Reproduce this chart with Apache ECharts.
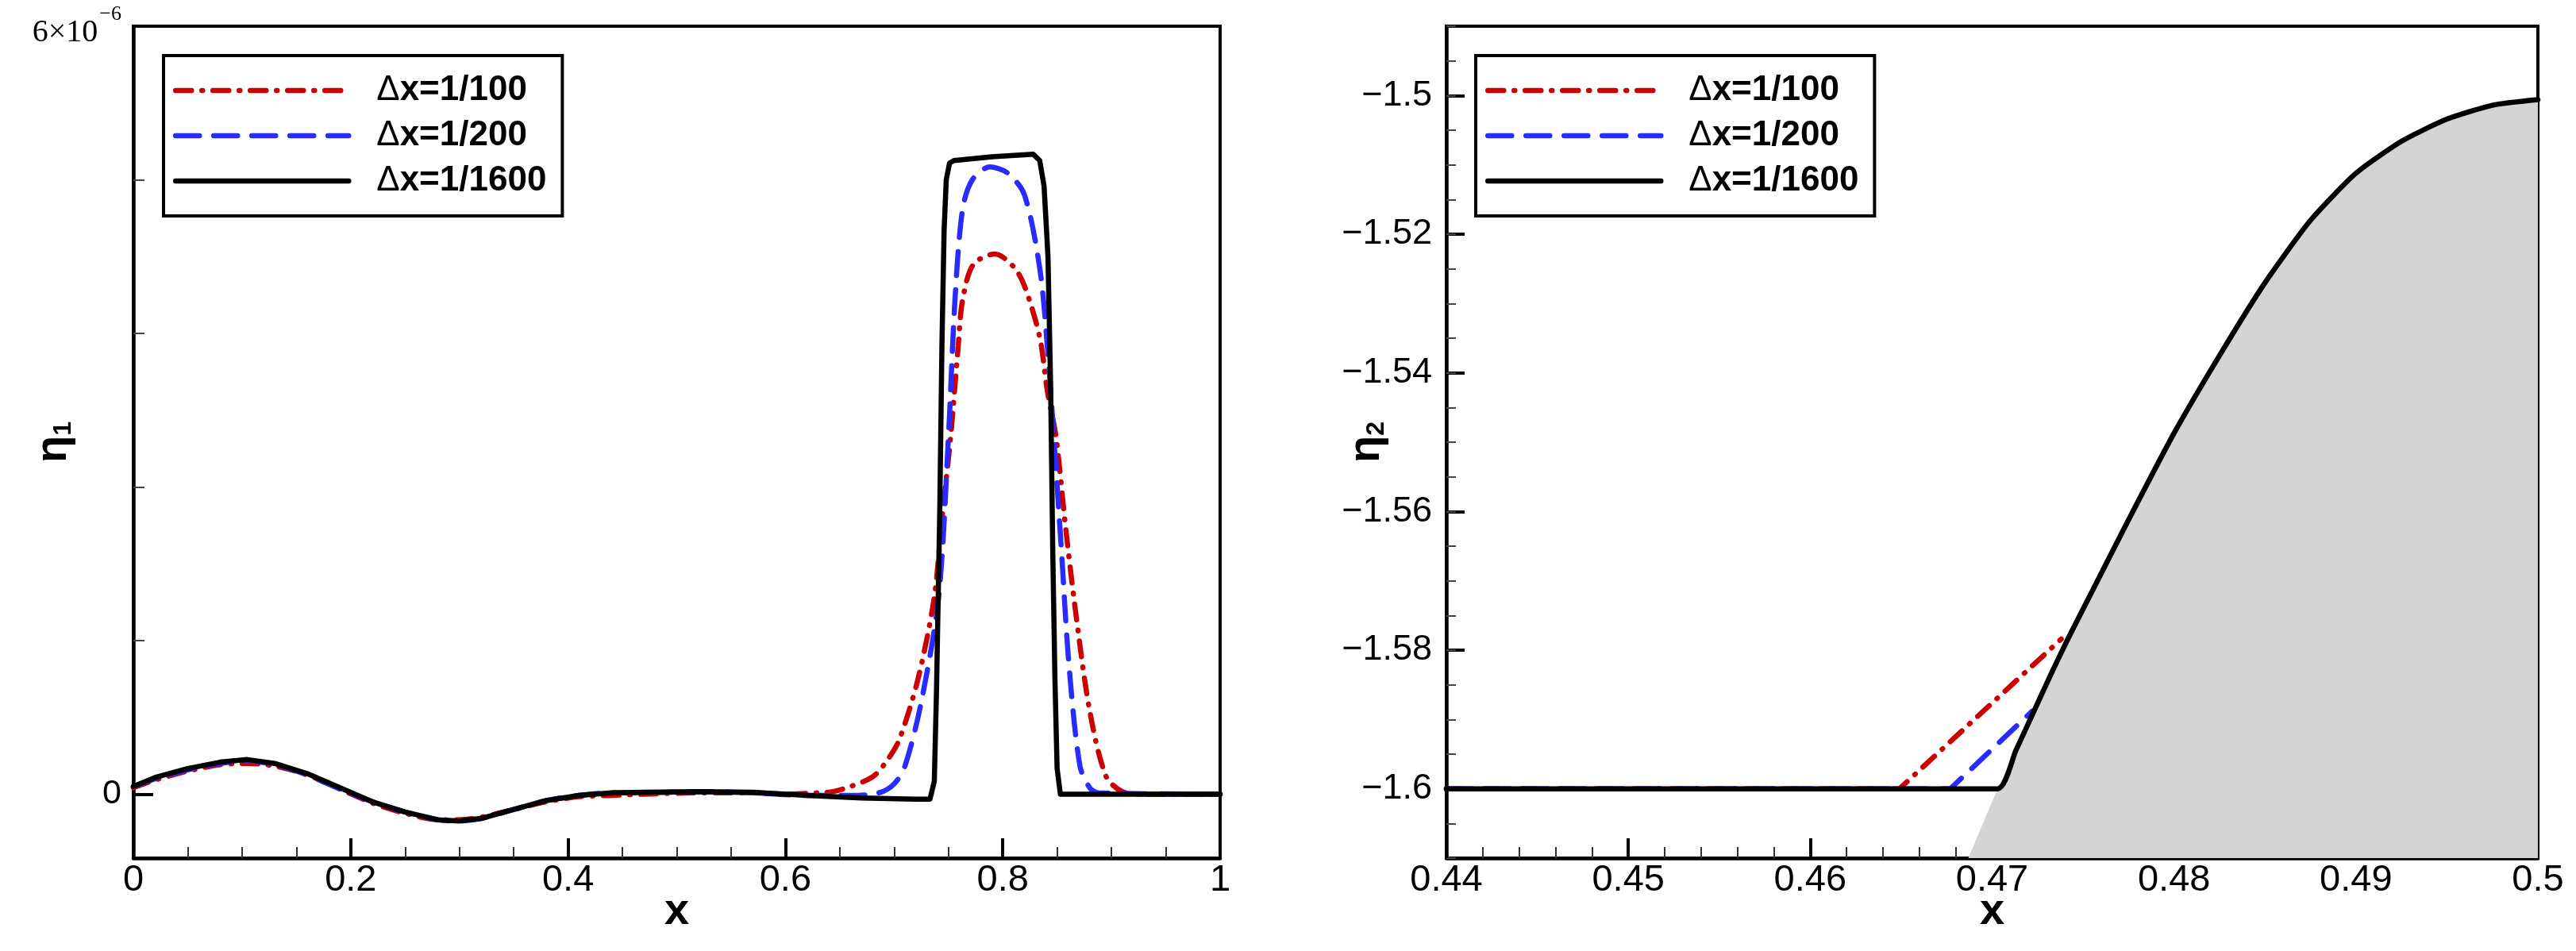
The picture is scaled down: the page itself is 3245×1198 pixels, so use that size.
<!DOCTYPE html>
<html>
<head>
<meta charset="utf-8">
<script src="https://cdn.jsdelivr.net/npm/echarts@6/dist/echarts.min.js"></script>
<style>
    html, body { margin: 0; padding: 0; background: #ffffff; }
    #chart { width: 3245px; height: 1198px; }
</style>
</head>
<body>
<div id="chart"></div>
<script>
// left panel: eta_1 in units of 1e-6
const seriesNames = ["\u0394x=1/100", "\u0394x=1/200", "\u0394x=1/1600"];

const leftCoarse = [
    [0, 0.05], [0.02, 0.11], [0.05, 0.18], [0.08, 0.23], [0.105, 0.24], [0.13, 0.22],
    [0.16, 0.15], [0.19, 0.04], [0.22, -0.07], [0.25, -0.15], [0.28, -0.2], [0.3, -0.2],
    [0.32, -0.18], [0.35, -0.12], [0.38, -0.06], [0.41, -0.02], [0.44, -0.01], [0.47, 0],
    [0.52, 0.01], [0.57, 0.01], [0.6, 0], [0.63, 0.01], [0.644, 0.02], [0.66, 0.06],
    [0.681, 0.14], [0.695, 0.28], [0.705, 0.43], [0.722, 0.9], [0.737, 1.54], [0.744, 2.15],
    [0.752, 2.79], [0.759, 3.5], [0.763, 3.86], [0.773, 4.14], [0.793, 4.22], [0.81, 4.12],
    [0.82, 3.97], [0.834, 3.57], [0.841, 3.15], [0.849, 2.79], [0.858, 2.07], [0.868, 1.36],
    [0.88, 0.65], [0.895, 0.14], [0.91, 0.02], [0.93, 0], [1, 0]
];

const leftMedium = [
    [0, 0.06], [0.02, 0.12], [0.05, 0.19], [0.08, 0.24], [0.105, 0.26], [0.13, 0.23],
    [0.16, 0.15], [0.19, 0.04], [0.22, -0.06], [0.25, -0.14], [0.28, -0.2], [0.3, -0.21],
    [0.32, -0.19], [0.35, -0.12], [0.38, -0.05], [0.41, -0.01], [0.44, 0.01], [0.47, 0.01],
    [0.52, 0.02], [0.57, 0.01], [0.62, -0.01], [0.66, -0.01], [0.686, 0.01], [0.7, 0.08],
    [0.71, 0.22], [0.725, 0.72], [0.741, 1.54], [0.75, 2.79], [0.756, 3.86], [0.763, 4.57],
    [0.772, 4.8], [0.788, 4.9], [0.805, 4.85], [0.82, 4.68], [0.834, 4.11], [0.841, 3.5],
    [0.847, 2.79], [0.854, 1.9], [0.861, 1], [0.871, 0.22], [0.88, 0.05], [0.888, 0.01], [1, 0]
];

const leftFine = [
    [0, 0.06], [0.02, 0.13], [0.05, 0.2], [0.08, 0.25], [0.105, 0.27], [0.13, 0.24],
    [0.16, 0.16], [0.19, 0.05], [0.22, -0.06], [0.25, -0.14], [0.28, -0.2], [0.3, -0.21],
    [0.32, -0.19], [0.35, -0.12], [0.38, -0.05], [0.41, -0.01], [0.44, 0.01], [0.47, 0.015],
    [0.52, 0.02], [0.57, 0.015], [0.62, -0.01], [0.67, -0.03], [0.72, -0.04], [0.733, -0.04],
    [0.737, 0.1], [0.739, 0.8], [0.742, 2.2], [0.744, 3.5], [0.746, 4.4], [0.748, 4.8],
    [0.751, 4.93], [0.755, 4.95], [0.79, 4.98], [0.828, 5], [0.834, 4.95], [0.838, 4.75],
    [0.8416, 4.2], [0.844, 3.2], [0.846, 1.9], [0.848, 0.9], [0.85, 0.2], [0.853, 0], [1, 0]
];

// right panel: eta_2
const rightCoarse = [[0.44, -1.6], [0.4649, -1.6], [0.4738, -1.5784]];
const rightMedium = [[0.44, -1.6], [0.4677, -1.6], [0.4722, -1.5888]];
const rightFine = [
    [0.44, -1.6], [0.4703, -1.6], [0.4713, -1.5945], [0.4723, -1.5888], [0.4733, -1.5831],
    [0.4742, -1.5782], [0.4755, -1.5715], [0.4775, -1.5612], [0.48, -1.5487], [0.4825, -1.5375],
    [0.485, -1.527], [0.4875, -1.518], [0.49, -1.5112], [0.4925, -1.5066], [0.495, -1.5034],
    [0.4975, -1.5014], [0.5, -1.5006]
];
const rightShade = [[0.4687, -1.61]].concat(rightFine.slice(1));

// tick positions
const leftYMinorTicks = [1.2, 2.4, 3.6, 4.8];
const leftYLabels = [0, 6];
const rightYTicks = [-1.6, -1.58, -1.56, -1.54, -1.52, -1.5];

const FONT = "'Liberation Sans', Arial, sans-serif";
const SERIF = "'Liberation Serif', 'Times New Roman', serif";
const BLACK = "#000000";
const RED = "#cc0000";
const BLUE = "#2a2cff";
const LINE_W = 6.5;

const chart = echarts.init(document.getElementById("chart"), null, { renderer: "canvas" });

function lineStyles(name) {
    if (name === seriesNames[0]) {
        return { color: RED, width: LINE_W, type: [20, 13, 1, 13], cap: "round" };
    }
    if (name === seriesNames[1]) {
        return { color: BLUE, width: LINE_W, type: [30, 18], cap: "round" };
    }
    return { color: BLACK, width: LINE_W, type: "solid", cap: "round", join: "round" };
}

function curve(name, data, gridIndex, z, smooth) {
    const style = lineStyles(name);
    return {
        name: name,
        type: "line",
        xAxisIndex: gridIndex,
        yAxisIndex: gridIndex * 2,
        data: data,
        symbol: "none",
        smooth: smooth,
        z: z,
        color: style.color,
        lineStyle: style,
        silent: true
    };
}

function legendAt(left) {
    return {
        left: left,
        top: 70,
        orient: "vertical",
        data: seriesNames,
        borderColor: BLACK,
        borderWidth: 4,
        padding: [22, 20, 22, 12],
        itemWidth: 218,
        itemHeight: 12,
        itemGap: 13,
        selectedMode: false,
        itemStyle: { opacity: 0 },
        lineStyle: { width: LINE_W },
        formatter: name => `{d|\u0394}{b|${name.slice(1)}}`,
        textStyle: {
            padding: [0, 0, 0, 30],
            rich: {
                d: { fontFamily: FONT, fontSize: 44, fontWeight: "normal", color: BLACK, lineHeight: 44 },
                b: { fontFamily: FONT, fontSize: 44, fontWeight: "bold", color: BLACK, lineHeight: 44 }
            }
        }
    };
}

function xAxisFor(gridIndex, min, max, interval, minorSplit) {
    return {
        type: "value",
        gridIndex: gridIndex,
        min: min,
        max: max,
        interval: interval,
        name: "x",
        nameLocation: "middle",
        nameGap: 40,
        nameMoveOverlap: false,
        nameTextStyle: { fontFamily: FONT, fontSize: 56, fontWeight: "bold", color: BLACK },
        axisLine: { show: true, onZero: false, lineStyle: { color: BLACK, width: 4.5 } },
        axisTick: { show: true, inside: true, length: 25, lineStyle: { color: BLACK, width: 4 } },
        minorTick: { show: true, splitNumber: minorSplit, length: 14, lineStyle: { color: "#333", width: 2 } },
        axisLabel: { fontFamily: FONT, fontSize: 47, color: BLACK, margin: 5 },
        splitLine: { show: false },
        minorSplitLine: { show: false }
    };
}

const etaName = sub => ({
    name: `{e|\u03b7}{s|${sub}}`,
    nameLocation: "middle",
    nameRotate: 90,
    nameGap: 72,
    nameMoveOverlap: false,
    nameTextStyle: {
        rich: {
            e: { fontFamily: FONT, fontSize: 56, fontWeight: "bold", color: BLACK, lineHeight: 56 },
            s: { fontFamily: FONT, fontSize: 32, fontWeight: "bold", color: BLACK, lineHeight: 56, verticalAlign: "bottom" }
        }
    }
});

chart.setOption({
    backgroundColor: "#ffffff",
    animation: false,
    grid: [
        { left: 168, right: 1708, top: 33, bottom: 117, show: true, borderColor: BLACK, borderWidth: 4, backgroundColor: "transparent" },
        { left: 1822, right: 48, top: 33, bottom: 117, show: true, borderColor: BLACK, borderWidth: 4, backgroundColor: "transparent" }
    ],
    legend: [legendAt(206), legendAt(1859)],
    xAxis: [
        xAxisFor(0, 0, 1, 0.2, 4),
        xAxisFor(1, 0.44, 0.5, 0.01, 5)
    ],
    yAxis: [
        Object.assign({
            type: "value",
            gridIndex: 0,
            position: "left",
            min: -0.5,
            max: 6,
            axisLine: { show: true, onZero: false, lineStyle: { color: BLACK, width: 4.5 } },
            axisTick: { show: true, inside: true, length: 14, customValues: leftYMinorTicks, lineStyle: { color: "#444", width: 2 } },
            axisLabel: {
                customValues: leftYLabels,
                margin: 15,
                color: BLACK,
                fontFamily: FONT,
                fontSize: 43,
                formatter: v => (v === 6 ? "{m|6\u00d710}{p|\u22126}" : String(v)),
                rich: {
                    m: { fontFamily: SERIF, fontSize: 40, color: BLACK, padding: [16, 0, 0, 0] },
                    p: { fontFamily: SERIF, fontSize: 26, color: BLACK, verticalAlign: "top", padding: [0, 0, 0, 2] }
                }
            },
            splitLine: { show: false }
        }, etaName("1")),
        {
            type: "value",
            gridIndex: 0,
            position: "left",
            min: -0.5,
            max: 6,
            axisLine: { show: false, onZero: false },
            axisTick: { show: true, inside: true, length: 25, customValues: [0], lineStyle: { color: BLACK, width: 4 } },
            axisLabel: { show: false },
            splitLine: { show: false }
        },
        Object.assign({
            type: "value",
            gridIndex: 1,
            position: "left",
            min: -1.61,
            max: -1.49,
            axisLine: { show: true, onZero: false, lineStyle: { color: BLACK, width: 4.5 } },
            axisTick: { show: true, inside: true, length: 23, customValues: rightYTicks, lineStyle: { color: BLACK, width: 4 } },
            axisLabel: {
                customValues: rightYTicks,
                margin: 18,
                color: BLACK,
                fontFamily: FONT,
                fontSize: 45,
                formatter: v => String(v).replace("-", "\u2212")
            },
            splitLine: { show: false }
        }, etaName("2")),
        {
            type: "value",
            gridIndex: 1,
            position: "left",
            min: -1.61,
            max: -1.49,
            interval: 0.005,
            axisLine: { show: false, onZero: false },
            axisTick: { show: true, inside: true, length: 12, lineStyle: { color: "#444", width: 2 } },
            axisLabel: { show: false },
            splitLine: { show: false }
        }
    ],
    series: [
        curve(seriesNames[0], leftCoarse, 0, 2, 0.3),
        curve(seriesNames[1], leftMedium, 0, 3, 0.3),
        curve(seriesNames[2], leftFine, 0, 4, false),
        curve(seriesNames[0], rightCoarse, 1, 2, false),
        curve(seriesNames[1], rightMedium, 1, 3, false),
        {
            name: "shade",
            type: "line",
            xAxisIndex: 1,
            yAxisIndex: 2,
            data: rightShade,
            symbol: "none",
            smooth: 0.2,
            z: 5,
            silent: true,
            lineStyle: { width: 0, color: "#d4d4d4" },
            areaStyle: { color: "#d4d4d4", opacity: 1, origin: "start" }
        },
        curve(seriesNames[2], rightFine, 1, 6, 0.2)
    ]
});
</script>
</body>
</html>
